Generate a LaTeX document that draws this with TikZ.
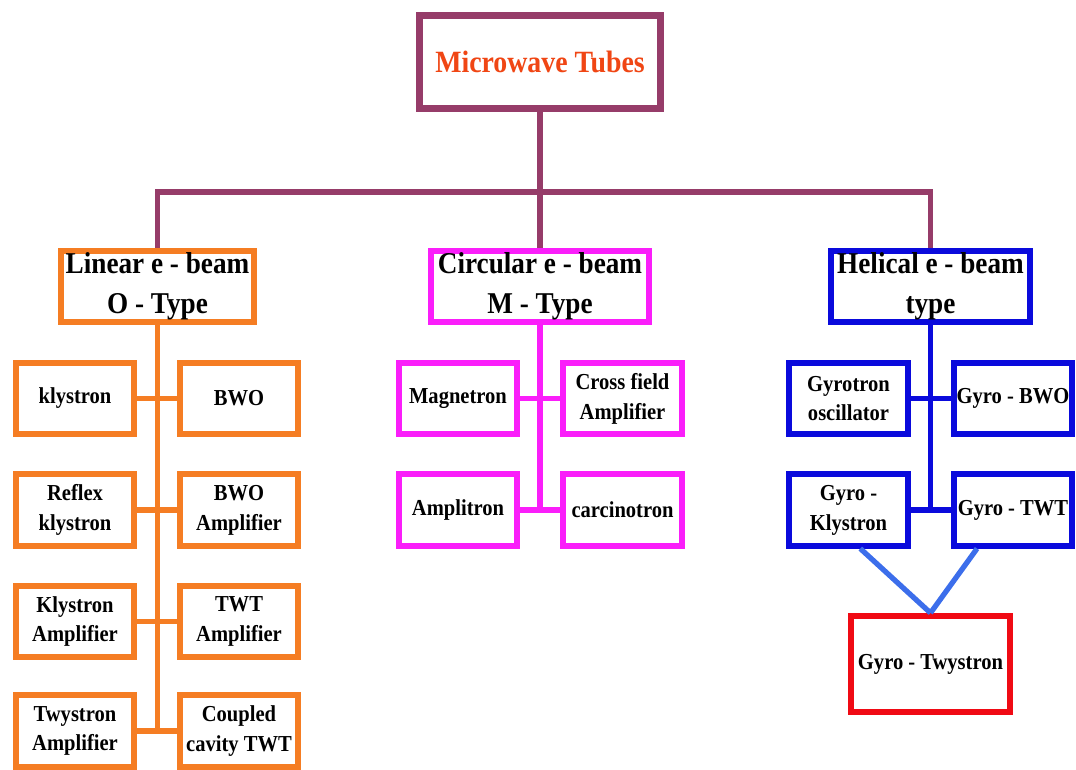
\documentclass[tikz,border=0pt]{standalone}
\usepackage{fontspec}
\setmainfont{Liberation Serif}[FakeStretch=0.9]
\definecolor{tubeplum}{RGB}{150,60,105}
\definecolor{tubetitle}{RGB}{240,70,20}
\definecolor{beamorange}{RGB}{245,125,35}
\definecolor{beammagenta}{RGB}{250,30,250}
\definecolor{beamblue}{RGB}{10,10,220}
\definecolor{linkblue}{RGB}{60,110,235}
\definecolor{beamred}{RGB}{240,10,20}

\tikzset {
    top/.style={rectangle, draw=tubeplum, line width=4pt, fill=white, inner sep=0pt,
        minimum width=4.84cm, minimum height=1.86cm, text=tubetitle,
        font=\bfseries\fontsize{17.6}{20}\selectfont},
    head/.style={rectangle, draw=#1, line width=3.2pt, fill=white, inner sep=0pt,
        minimum height=1.43cm, align=center,
        font=\bfseries\fontsize{17.2}{22.5}\selectfont},
    leaf/.style={rectangle, draw=#1, line width=3.2pt, fill=white, inner sep=0pt,
        minimum width=2.37cm, minimum height=1.43cm, align=center,
        font=\bfseries\fontsize{13}{17}\selectfont},
    bus/.style={draw=tubeplum, line width=3pt},
    wire/.style={draw=#1, line width=3pt},
}

\begin{document}
\begin{tikzpicture}[x=0.02cm, y=-0.02cm]
    \useasboundingbox (0, 0) rectangle (1076, 770);

    % top level and the three beam types
    \coordinate (hub) at (540, 192);
    \node at (540, 62) [top] (title) {Microwave Tubes};
    \node at (157.5, 286.5) [head=beamorange, minimum width=3.87cm] (lin) {Linear e - beam\\O - Type};
    \node at (540, 286.5) [head=beammagenta, minimum width=4.37cm] (cir) {Circular e - beam\\M - Type};
    \node at (930.5, 286.5) [head=beamblue, minimum width=3.99cm] (hel) {Helical e - beam\\type};
    \draw [bus] (title) -- (hub);
    \draw [bus] (lin.north) |- (hub) -| (hel.north);
    \draw [bus] (hub) -- (cir.north);

    % O - type
    \node at (75, 398.5) [leaf=beamorange] (la1) {klystron};
    \node at (239, 398.5) [leaf=beamorange] (lb1) {BWO};
    \node at (75, 510) [leaf=beamorange] (la2) {Reflex\\klystron};
    \node at (239, 510) [leaf=beamorange] (lb2) {BWO\\Amplifier};
    \node at (75, 621.5) [leaf=beamorange] (la3) {Klystron\\Amplifier};
    \node at (239, 621.5) [leaf=beamorange] (lb3) {TWT\\Amplifier};
    \node at (75, 731) [leaf=beamorange] (la4) {Twystron\\Amplifier};
    \node at (239, 731) [leaf=beamorange] (lb4) {Coupled\\cavity TWT};
    \draw [wire=beamorange] (lin.south) -- (lin.south |- la4.east);
    \draw [wire=beamorange] (la1) -- (lb1);
    \draw [wire=beamorange] (la2) -- (lb2);
    \draw [wire=beamorange] (la3) -- (lb3);
    \draw [wire=beamorange] (la4) -- (lb4);

    % M - type
    \node at (458, 398.5) [leaf=beammagenta] (ca1) {Magnetron};
    \node at (622.5, 398.5) [leaf=beammagenta] (cb1) {Cross field\\Amplifier};
    \node at (458, 510) [leaf=beammagenta] (ca2) {Amplitron};
    \node at (622.5, 510) [leaf=beammagenta] (cb2) {carcinotron};
    \draw [wire=beammagenta] (cir.south) -- (cir.south |- ca2.east);
    \draw [wire=beammagenta] (ca1) -- (cb1);
    \draw [wire=beammagenta] (ca2) -- (cb2);

    % helical type
    \node at (848.5, 398.5) [leaf=beamblue] (ha1) {Gyrotron\\oscillator};
    \node at (1013, 398.5) [leaf=beamblue] (hb1) {Gyro - BWO};
    \node at (848.5, 510) [leaf=beamblue] (ha2) {Gyro -\\Klystron};
    \node at (1013, 510) [leaf=beamblue] (hb2) {Gyro - TWT};
    \draw [wire=beamblue] (hel.south) -- (hel.south |- ha2.east);
    \draw [wire=beamblue] (ha1) -- (hb1);
    \draw [wire=beamblue] (ha2) -- (hb2);

    \node at (930.5, 664) [leaf=beamred, minimum width=3.19cm, minimum height=1.93cm] (twy) {Gyro - Twystron};
    \draw [wire=linkblue] (ha2.-73) -- (twy.north);
    \draw [wire=linkblue] (hb2.227) -- (twy.north);
\end{tikzpicture}
\end{document}
